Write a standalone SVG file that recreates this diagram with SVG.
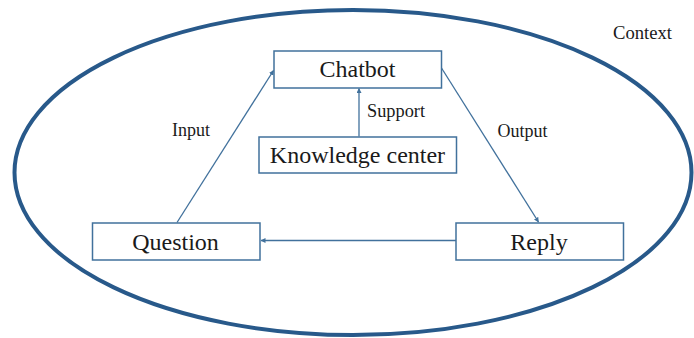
<svg xmlns="http://www.w3.org/2000/svg" width="694" height="338" viewBox="0 0 694 338">
  <style>
    .box { fill: #ffffff; stroke: #41719c; stroke-width: 1.5; }
    .caption { font-family: 'Liberation Serif', 'DejaVu Serif', serif; font-size: 24px; fill: #1a1a1a; text-anchor: middle; }
    .label { font-family: 'Liberation Serif', 'DejaVu Serif', serif; font-size: 19px; fill: #1a1a1a; }
    .link { fill: none; stroke: #41719c; stroke-width: 1.3; marker-end: url(#head); }
  </style>
  <defs>
    <marker id="head" viewBox="0 0 10 10" refX="9" refY="5" markerWidth="5" markerHeight="5" orient="auto" markerUnits="userSpaceOnUse">
      <path d="M0,0 L10,5 L0,10 z" fill="#41719c"/>
    </marker>
  </defs>

  <!-- context boundary -->
  <g id="context">
    <ellipse cx="353" cy="172.5" rx="338.5" ry="162.5" fill="none" stroke="#28598a" stroke-width="4"/>
    <text class="label" x="613" y="39" textLength="59" lengthAdjust="spacingAndGlyphs">Context</text>
  </g>

  <!-- connectors -->
  <g id="connectors">
    <line class="link" x1="177" y1="222.5" x2="273.5" y2="70.5"/>
    <line class="link" x1="441.5" y1="68" x2="538.5" y2="222"/>
    <line class="link" x1="359" y1="136.5" x2="359" y2="88.5"/>
    <line class="link" x1="456" y1="240.5" x2="261" y2="240.5"/>
    <text class="label" x="172" y="136" textLength="38" lengthAdjust="spacingAndGlyphs">Input</text>
    <text class="label" x="497.5" y="137" textLength="50" lengthAdjust="spacingAndGlyphs">Output</text>
    <text class="label" x="367" y="117" textLength="58" lengthAdjust="spacingAndGlyphs">Support</text>
  </g>

  <g id="chatbot">
    <rect class="box" x="274" y="51" width="167.5" height="37"/>
    <text class="caption" x="357.5" y="77" font-family="Liberation Serif, serif">Chatbot</text>
  </g>

  <g id="knowledge-center">
    <rect class="box" x="259" y="137" width="197.5" height="36"/>
    <text class="caption" x="357.5" y="163" font-family="Liberation Serif, serif">Knowledge center</text>
  </g>

  <g id="question">
    <rect class="box" x="92.5" y="223" width="167.5" height="37"/>
    <text class="caption" x="175.5" y="250" font-family="Liberation Serif, serif">Question</text>
  </g>

  <g id="reply">
    <rect class="box" x="456" y="223" width="167.5" height="37"/>
    <text class="caption" x="539" y="250" font-family="Liberation Serif, serif">Reply</text>
  </g>
</svg>
